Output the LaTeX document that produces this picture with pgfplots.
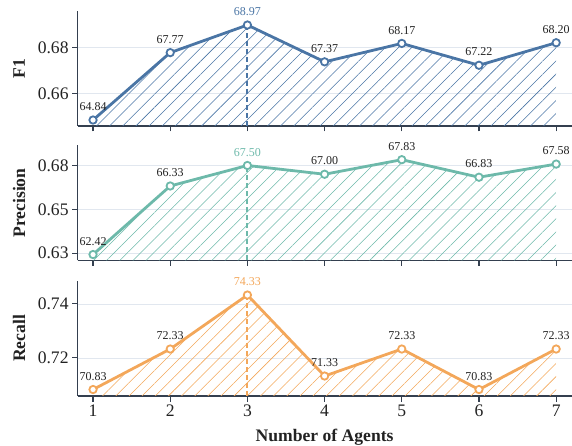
\documentclass[border=0pt]{standalone}
\usepackage{pgfplots}
\pgfplotsset{compat=1.18}
\usetikzlibrary{patterns.meta}
\usepackage{fontspec}
\setmainfont{Liberation Serif}
\definecolor{f1c}{HTML}{4A75A5}
\definecolor{prc}{HTML}{6DB9AA}
\definecolor{rec}{HTML}{F3A75A}
\definecolor{axc}{HTML}{343F4F}
\definecolor{gridc}{HTML}{E1E7EF}
\definecolor{textc}{HTML}{222222}
\pgfplotsset{
  panel/.style={
    scale only axis, width=494bp, height=115bp,
    xmin=0.8, xmax=7.2,
    axis lines=left,
    axis line style={-, draw=axc, line width=1.3bp},
    tick align=outside,
    major tick length=5.5bp,
    tick style={draw=axc, line width=1.1bp},
    xtick={1,2,3,4,5,6,7},
    ymajorgrids,
    grid style={draw=gridc, line width=0.8bp},
    ticklabel style={font=\fontsize{17.6bp}{20bp}\selectfont, text=textc},
    label style={font=\bfseries\fontsize{17.6bp}{20bp}\selectfont, text=textc},
    ylabel style={at={(axis description cs:-0.1186,0.5)}, anchor=center},
    clip mode=individual,
    point meta=explicit symbolic,
    every node near coord/.append style={font=\fontsize{12bp}{14bp}\selectfont, text=textc, yshift=5bp},
  },
  hatch/.style={draw=none, forget plot, pattern={Lines[angle=45,distance=9.3bp,line width=0.55bp]}, pattern color=#1},
  mainline/.style={draw=#1, line width=2.8bp, mark=*, mark size=3.7bp, mark options={fill=white, draw=#1, line width=1.8bp, solid}, nodes near coords},
}
\begin{document}
\begin{tikzpicture}
\useasboundingbox (0,0) rectangle (572bp,446bp);
% F1
\begin{axis}[panel, at={(77.6bp,320bp)}, anchor=south west,
  ymin=0.6458, ymax=0.6958, ytick={0.66,0.68}, yticklabels={0.66,0.68},
  xticklabels={}, ylabel={F1}]
\addplot[hatch=f1c] coordinates {(1,0.6484) (2,0.6777) (3,0.6897) (4,0.6737) (5,0.6817) (6,0.6722) (7,0.6820)} \closedcycle;
\addplot[draw=f1c, line width=2bp, dash pattern=on 5bp off 3bp, forget plot] coordinates {(3,0.6458) (3,0.6897)};
\addplot[mainline=f1c] coordinates {(1,0.6484)[64.84] (2,0.6777)[67.77] (3,0.6897)[\textcolor{f1c}{68.97}] (4,0.6737)[67.37] (5,0.6817)[68.17] (6,0.6722)[67.22] (7,0.6820)[68.20]};
\end{axis}
% Precision
\begin{axis}[panel, at={(77.6bp,185.5bp)}, anchor=south west,
  ymin=0.6208, ymax=0.6864, ytick={0.625,0.65,0.675}, yticklabels={0.63,0.65,0.68},
  xticklabels={}, ylabel={Precision}]
\addplot[hatch=prc] coordinates {(1,0.6242) (2,0.6633) (3,0.6750) (4,0.6700) (5,0.6783) (6,0.6683) (7,0.6758)} \closedcycle;
\addplot[draw=prc, line width=2bp, dash pattern=on 5bp off 3bp, forget plot] coordinates {(3,0.6208) (3,0.6750)};
\addplot[mainline=prc] coordinates {(1,0.6242)[62.42] (2,0.6633)[66.33] (3,0.6750)[\textcolor{prc}{67.50}] (4,0.6700)[67.00] (5,0.6783)[67.83] (6,0.6683)[66.83] (7,0.6758)[67.58]};
\end{axis}
% Recall
\begin{axis}[panel, at={(77.6bp,50bp)}, anchor=south west,
  ymin=0.7059, ymax=0.7485, ytick={0.72,0.74}, yticklabels={0.72,0.74},
  xticklabels={1,2,3,4,5,6,7}, ylabel={Recall}, xlabel={Number of Agents},
  xlabel style={at={(axis description cs:0.5,0)}, yshift=-41bp, anchor=center}]
\addplot[hatch=rec] coordinates {(1,0.7083) (2,0.7233) (3,0.7433) (4,0.7133) (5,0.7233) (6,0.7083) (7,0.7233)} \closedcycle;
\addplot[draw=rec, line width=2bp, dash pattern=on 5bp off 3bp, forget plot] coordinates {(3,0.7059) (3,0.7433)};
\addplot[mainline=rec] coordinates {(1,0.7083)[70.83] (2,0.7233)[72.33] (3,0.7433)[\textcolor{rec}{74.33}] (4,0.7133)[71.33] (5,0.7233)[72.33] (6,0.7083)[70.83] (7,0.7233)[72.33]};
\end{axis}
\end{tikzpicture}
\end{document}
